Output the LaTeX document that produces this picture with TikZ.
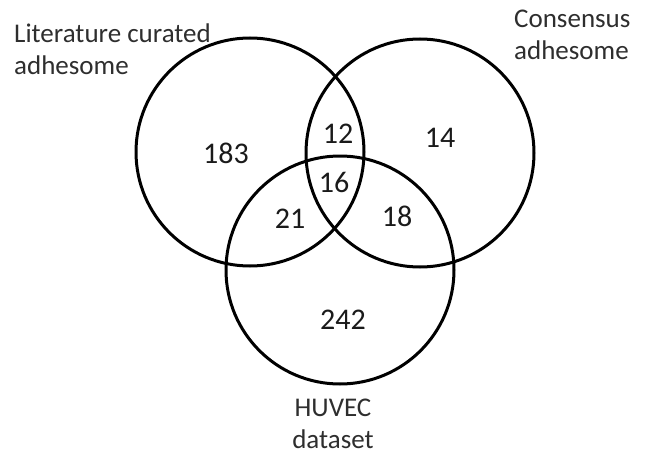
\documentclass[tikz,border=0pt]{standalone}
\usepackage{fontspec}
\setmainfont{Carlito}
\usepackage{tikz}
\usetikzlibrary{positioning}
\definecolor{ink}{HTML}{1A1A1A}
\definecolor{labgray}{HTML}{2E2E2E}

\begin{document}
\begin{tikzpicture}[
 x=1pt,y=-1pt,
 set/.style={circle,draw=black,line width=3pt,minimum size=228pt,inner sep=0pt},
 count/.style={text=ink,font=\fontsize{30}{34}\selectfont,inner sep=0pt},
 lab/.style={text=labgray,font=\fontsize{27}{31.5}\selectfont,inner sep=0pt}
]
\useasboundingbox (0,0) rectangle (646,455);
\node[set] (lit) at (250,152) {};
\node[set] (cons) at (420,153) {};
\node[set] (huvec) at (340,270) {};
\node[count] (n183) at (226,153) {183};
\node[count] (n12) at (338,134) {12};
\node[count] (n14) at (440,138) {14};
\node[count] (n16) at (334,182) {16};
\node[count] (n21) at (290,219) {21};
\node[count] (n18) at (397,216) {18};
\node[count] (n242) at (343,320) {242};
\node[lab,anchor=north west,align=left] (litlab) at (14,24) {Literature curated\\adhesome};
\node[lab,anchor=north west,align=left] (conslab) at (514,10) {Consensus\\adhesome};
\node[lab,anchor=north,align=center] (huveclab) at (333,399) {HUVEC\\dataset};
\end{tikzpicture}
\end{document}
